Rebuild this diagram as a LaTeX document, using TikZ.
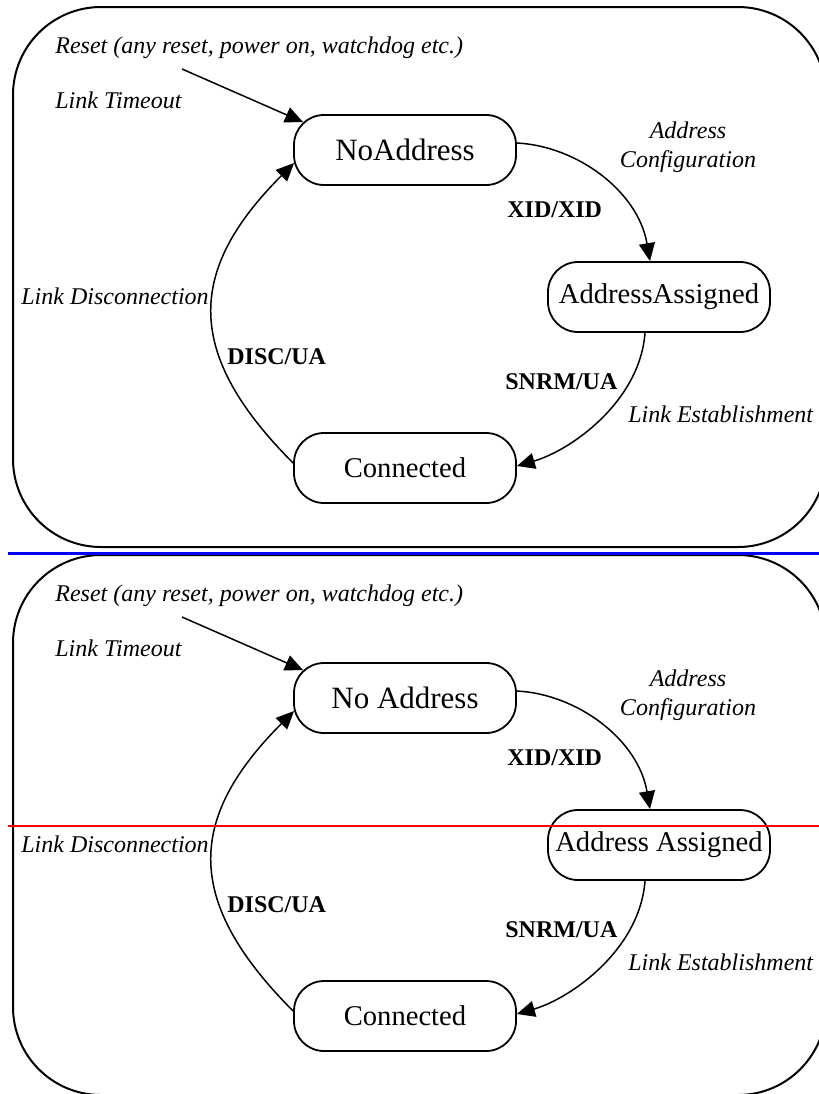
\documentclass[tikz,border=0pt]{standalone}
\usepackage{fontspec}
\setmainfont{Liberation Serif}
\usetikzlibrary{arrows.meta}
\newcommand{\statefont}{\fontsize{14.3}{17}\selectfont}
\newcommand{\lblfont}{\fontsize{12}{14.5}\selectfont}
\tikzset{
  state/.style={draw, line width=0.9pt, rounded corners=15pt, minimum width=111pt, minimum height=35pt, inner sep=1pt, font=\statefont},
  lbl/.style={font=\lblfont\itshape, inner sep=0pt},
  trig/.style={font=\lblfont\bfseries, inner sep=0pt},
  arr/.style={-{Triangle[length=9pt, width=8pt]}, line width=0.75pt},
  frm/.style={line width=1pt, rounded corners=44pt},
  rule/.style={line width=1.5pt},
}
\begin{document}
\begin{tikzpicture}[x=0.5pt, y=-0.5pt]
  \clip (0,0) rectangle (819,1094);
  \foreach \dy/\p/\noaddr/\assigned in {0/a/NoAddress/AddressAssigned, 548/b/No Address/Address Assigned}{
    \begin{scope}[shift={(0,\dy)}]
      \draw[frm] (13,7) rectangle (826,547);
      % states
      \node[state, font=\fontsize{15.5}{18}\selectfont] (na\p) at (405,150) {\noaddr};
      \node[state] (aa\p) at (659,297) {\assigned};
      \node[state] (cn\p) at (405,468) {Connected};
      % events and triggers
      \node[lbl, anchor=base west] (rsttxt\p) at (55,53) {Reset (any reset, power on, watchdog etc.)};
      \node[lbl, anchor=base west] (tmo\p) at (55,108) {Link Timeout};
      \node[lbl, align=center] (cfg\p) at (688,147) {Address\\Configuration};
      \node[trig, anchor=base west] (xid\p) at (507,217) {XID/XID};
      \node[lbl, anchor=base west] (dsc\p) at (21,304) {Link Disconnection};
      \node[trig, anchor=base west] (disc\p) at (227,364) {DISC/UA};
      \node[trig, anchor=base west] (snrm\p) at (505,389) {SNRM/UA};
      \node[lbl, anchor=base west] (est\p) at (628,422) {Link Establishment};
      % transitions
      \coordinate (rst\p) at (182,69);
      \draw[arr] (rst\p) -- ([shift={(10,8)}]na\p.north west);
      \draw[arr] ([shift={(0,-7)}]na\p.east) .. controls +(60,3) and +(-12,-70) .. ([shift={(-9,0)}]aa\p.north);
      \draw[arr] ([shift={(-14,0)}]aa\p.south) .. controls +(-5,68) and +(55,-16) .. ([shift={(0,-2)}]cn\p.east);
      \draw[arr] ([shift={(1,-4)}]cn\p.west) .. controls +(-109,-109) and +(-109,109) .. ([shift={(1,13)}]na\p.west);
    \end{scope}
  }
  \draw[rule, blue] (8,553) -- (819,553);
  \draw[rule, red, line width=1pt] (8,826) -- (819,826);
\end{tikzpicture}
\end{document}
